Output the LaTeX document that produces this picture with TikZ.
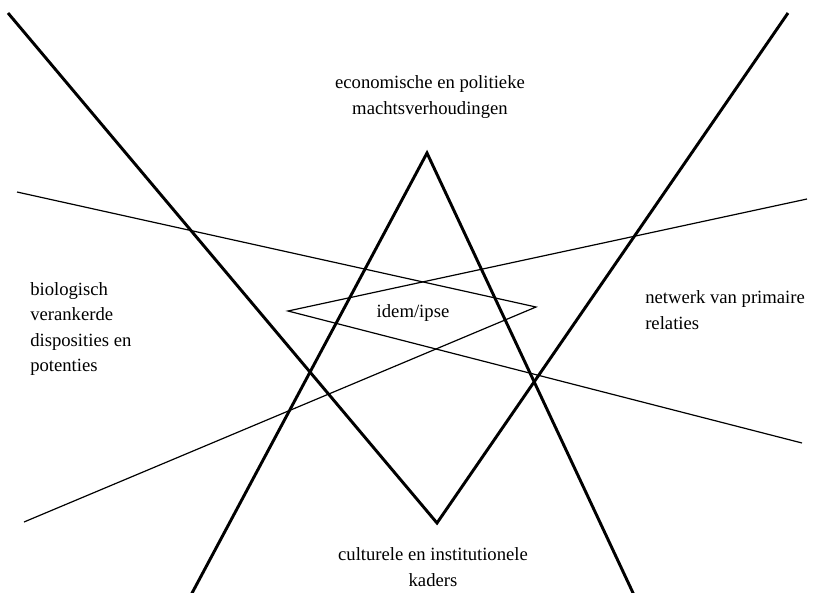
\documentclass[tikz,border=0pt]{standalone}
\usepackage{fontspec}
\setmainfont{Liberation Serif}
\begin{document}
\begin{tikzpicture}[x=0.75pt,y=-0.75pt,
  thickline/.style={line width=2.2pt,line cap=butt,line join=miter},
  thinline/.style={line width=0.9pt},
  lbl/.style={font=\fontsize{14pt}{19.2pt}\selectfont,inner sep=0pt,align=left},
  clbl/.style={font=\fontsize{14pt}{19.2pt}\selectfont,inner sep=0pt,align=center}]
\useasboundingbox (0,0) rectangle (815,593);
\begin{scope}
\clip (0,0) rectangle (815,593);
% thick V
\coordinate (vtl) at (8,13);
\coordinate (vtr) at (788,13);
\coordinate (vb) at (437,523);
\draw[thickline] (vtl) -- (vb) -- (vtr);
% thick A
\coordinate (at) at (427,153);
\coordinate (abl) at (191,595);
\coordinate (abr) at (634,595);
\draw[thickline] (abl) -- (at) -- (abr);
% thin chevrons
\coordinate (dr) at (536,307);
\coordinate (dl) at (288,311);
\coordinate (t1) at (17,192);
\coordinate (t2) at (24,522);
\coordinate (t3) at (807,199);
\coordinate (t4) at (802,443);
\draw[thinline] (t1) -- (dr) -- (t2);
\draw[thinline] (t3) -- (dl) -- (t4);
\end{scope}
\node[clbl] (top) at (430,97) {economische en politieke\\machtsverhoudingen};
\node[lbl,anchor=west] (left) at (30,329) {biologisch\\verankerde\\disposities en\\potenties};
\node[lbl,anchor=west] (right) at (645,310) {netwerk van primaire\\relaties};
\node[clbl] (bottom) at (433,567) {culturele en institutionele\\kaders};
\node[clbl] (mid) at (413,313) {idem/ipse};
\end{tikzpicture}
\end{document}
